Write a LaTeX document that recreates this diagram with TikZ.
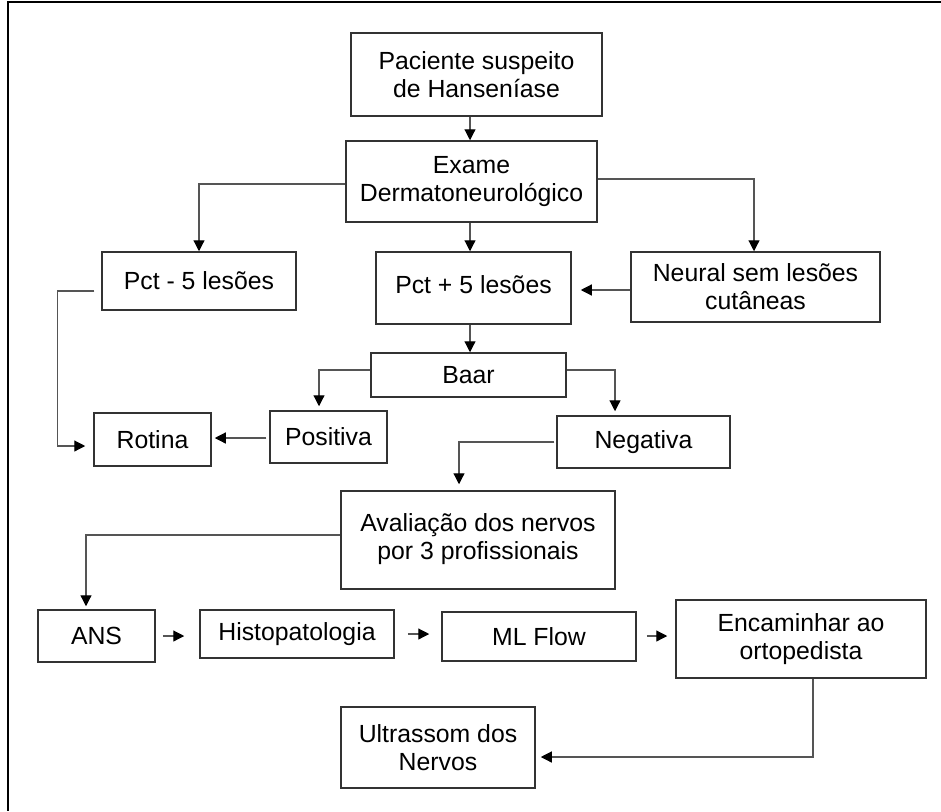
\documentclass[tikz,border=0pt]{standalone}
\usepackage{fontspec}
\setmainfont{Liberation Sans}
\usetikzlibrary{arrows.meta,calc}
\definecolor{boxline}{HTML}{333333}
\definecolor{conline}{HTML}{555555}
\begin{document}
\begin{tikzpicture}[x=1pt,y=-1pt,
  box/.style={draw=boxline,line width=1.5pt,inner sep=0pt,align=center,
    font=\fontsize{24.8}{28}\selectfont,text=black},
  arr/.style={draw=conline,line width=1.2pt,-{Triangle[length=11pt,width=11pt]},arrows={[color=black]}},
  ln/.style={draw=conline,line width=1.2pt}]
\useasboundingbox (0,0) rectangle (941,811);
\fill[white] (0,0) rectangle (941,811);
\draw[line width=2pt,black] (941,2) -- (8,2) -- (8,811);
\coordinate (ax) at (470,0);
% nodes
\node[box,minimum width=251pt,minimum height=83pt] (pac) at (476.5,74.5) {Paciente suspeito\\de Hanseníase};
\node[box,minimum width=251pt,minimum height=81pt] (exa) at (471.5,181.5) {Exame\\Dermatoneurológico};
\node[box,minimum width=194pt,minimum height=58pt] (pm) at (199,281) {Pct - 5 lesões};
\node[box,minimum width=195pt,minimum height=72pt] (pp) at (473.5,288) {\raisebox{6pt}{Pct + 5 lesões}};
\node[box,minimum width=249pt,minimum height=70pt] (neu) at (755.5,287) {Neural sem lesões\\cutâneas};
\node[box,minimum width=195pt,minimum height=44pt] (baar) at (468.5,375) {Baar};
\node[box,minimum width=117pt,minimum height=53pt] (rot) at (152.5,439.5) {Rotina};
\node[box,minimum width=117pt,minimum height=52pt] (pos) at (328.5,437) {Positiva};
\node[box,minimum width=173pt,minimum height=52pt] (neg) at (643.5,442) {Negativa};
\node[box,minimum width=274pt,minimum height=98pt] (ava) at (478,540) {\raisebox{5.5pt}{\begin{tabular}{@{}c@{}}Avaliação dos nervos\\[-0.5pt]por 3 profissionais\end{tabular}}};
\node[box,minimum width=117pt,minimum height=52pt] (ans) at (96.5,636) {ANS};
\node[box,minimum width=194pt,minimum height=48pt] (his) at (297,634) {Histopatologia};
\node[box,minimum width=194pt,minimum height=49pt] (ml) at (539,636.5) {ML Flow};
\node[box,minimum width=250pt,minimum height=78pt] (enc) at (801,639) {Encaminhar ao\\ortopedista};
\node[box,minimum width=194pt,minimum height=81pt] (ult) at (438,747.5) {Ultrassom dos\\Nervos};
% connectors
\draw[arr] (pac.south -| ax) -- (exa.north -| ax);
\draw[arr] (exa.south -| ax) -- (pp.north -| ax);
\draw[arr] ([yshift=-2.5pt]exa.west) -| (pm.north);
\draw[arr] ([yshift=2.5pt]exa.east) -| ([xshift=-1.5pt]neu.north);
\draw[arr,shorten >=9pt] ([yshift=-3pt]neu.west) -- ([yshift=-3pt]neu.west -| pp.east);
\draw[arr,shorten >=8pt] ([xshift=-7pt,yshift=-10pt]pm.west) -- ++(-37,0) |- ([yshift=-6.5pt]rot.west);
\draw[arr] (pp.south -| ax) -- (baar.north -| ax);
\draw[arr,shorten >=4pt] ([yshift=5pt]baar.west) -| ([xshift=-9.5pt]pos.north);
\draw[arr,shorten >=4pt] ([yshift=5pt]baar.east) -| ([xshift=-28.5pt]neg.north);
\draw[arr,shorten >=3pt] ([xshift=-3pt,yshift=-1pt]pos.west) -- ([yshift=-1pt]pos.west -| rot.east);
\draw[arr,shorten >=6pt] ([xshift=-2pt]neg.west) -| ([xshift=-19pt]ava.north);
\draw[arr,shorten >=3pt] ([yshift=5pt]ava.west) -| ([xshift=-10.5pt]ans.north);
\draw[arr,shorten >=15pt] ([xshift=7pt]ans.east) -- (ans.east -| his.west);
\draw[arr,shorten >=12pt] ([xshift=13pt]his.east) -- (his.east -| ml.west);
\draw[arr,shorten >=8pt] ([xshift=10pt,yshift=0.5pt]ml.east) -- ([yshift=0.5pt]ml.east -| enc.west);
\draw[arr,shorten >=5pt] ([xshift=12pt]enc.south) |- ([yshift=-9.5pt]ult.east);
\end{tikzpicture}
\end{document}
